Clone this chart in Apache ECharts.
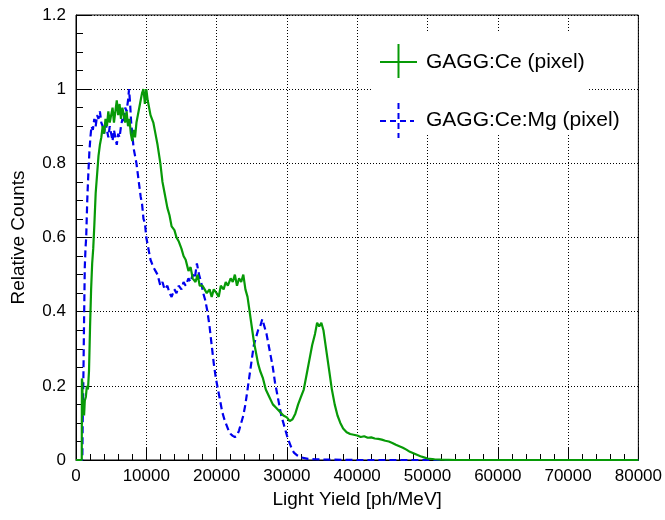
<!DOCTYPE html>
<html>
<head>
<meta charset="utf-8">
<script src="https://cdn.jsdelivr.net/npm/echarts@6/dist/echarts.min.js"></script>
<style>html,body{margin:0;padding:0;background:#fff}#c{width:665px;height:520px}</style>
</head>
<body>
<div id="c"></div>
<script>
const xTitle = 'Light Yield [ph/MeV]';
const yTitle = 'Relative Counts';
const seriesNames = ['GAGG:Ce (pixel)', 'GAGG:Ce:Mg (pixel)'];

const greenX = [0,820,840,900,960,1050,1150,1250,1400,1550,1700,1850,2000,2150,2300,2450,2600,2800,3000,3200,3400,3600,3800,4000,4200,4400,4600,4800,5000,5200,5400,5600,5800,6000,6200,6400,6600,6800,7000,7200,7400,7600,7800,8000,8200,8400,8600,8800,9000,9200,9400,9600,9800,10000,10200,10400,10600,10800,11000,11300,11600,12000,12300,12600,13000,13300,13600,14000,14300,14600,15000,15300,15600,16000,16300,16600,17000,17300,17600,18000,18300,18600,19000,19300,19600,20000,20300,20600,21000,21300,21600,22000,22300,22600,22900,23200,23500,23800,24100,24400,24700,25000,25300,25600,25900,26200,26600,27000,27500,28000,28500,29000,29500,30000,30400,30800,31200,31600,32000,32400,32800,33200,33600,34000,34300,34600,34900,35200,35500,35800,36100,36400,36800,37200,37600,38000,38500,39000,39500,40000,40500,41000,41500,42000,42500,43000,43500,44000,44500,45000,45500,46000,46500,47000,47500,48000,48500,49000,49500,50000,51000,52000,54000,80000];
const greenY = [0,0,0.22,0.21,0.12,0.15,0.12,0.16,0.17,0.20,0.19,0.24,0.36,0.46,0.53,0.57,0.63,0.72,0.77,0.82,0.85,0.87,0.90,0.88,0.92,0.90,0.94,0.91,0.93,0.95,0.91,0.94,0.97,0.93,0.96,0.92,0.95,0.93,0.91,0.94,0.90,0.92,0.88,0.86,0.89,0.87,0.91,0.93,0.95,0.97,0.99,1.0,0.96,1.0,0.97,0.95,0.93,0.93,0.91,0.88,0.85,0.80,0.75,0.72,0.68,0.66,0.63,0.62,0.60,0.59,0.57,0.55,0.54,0.51,0.52,0.49,0.48,0.50,0.47,0.47,0.46,0.45,0.46,0.44,0.46,0.45,0.44,0.47,0.46,0.48,0.47,0.49,0.48,0.50,0.47,0.49,0.48,0.50,0.46,0.44,0.40,0.36,0.32,0.29,0.26,0.24,0.22,0.19,0.17,0.15,0.14,0.13,0.12,0.115,0.105,0.11,0.125,0.15,0.17,0.19,0.23,0.27,0.31,0.34,0.37,0.36,0.37,0.35,0.31,0.27,0.23,0.19,0.15,0.12,0.10,0.085,0.075,0.07,0.068,0.066,0.062,0.064,0.06,0.061,0.058,0.057,0.055,0.052,0.05,0.046,0.041,0.037,0.033,0.028,0.022,0.018,0.014,0.01,0.007,0.004,0.002,0.001,0,0];

const blueX = [0,900,950,1050,1150,1250,1350,1450,1600,1750,1900,2050,2200,2400,2600,2800,3000,3200,3400,3600,3800,4000,4200,4400,4600,4800,5000,5200,5400,5600,5800,6000,6200,6400,6600,6800,7000,7200,7400,7550,7700,7850,8000,8200,8400,8600,8800,9000,9200,9400,9600,9800,10000,10200,10400,10600,10800,11000,11300,11600,12000,12300,12600,13000,13300,13600,14000,14300,14600,15000,15300,15600,16000,16300,16600,16900,17200,17500,17800,18100,18400,18700,19000,19300,19600,19900,20200,20500,20800,21100,21400,21700,22000,22300,22600,22900,23200,23500,23800,24100,24400,24700,25000,25300,25600,25900,26200,26500,26800,27100,27400,27700,28000,28300,28600,28900,29200,29500,29800,30100,30400,30700,31000,31500,32000,33000,34000,36000,40000,80000];
const blueY = [0,0,0.10,0.22,0.38,0.52,0.57,0.60,0.70,0.77,0.83,0.87,0.90,0.89,0.92,0.90,0.93,0.92,0.94,0.91,0.90,0.88,0.91,0.89,0.87,0.90,0.88,0.86,0.89,0.87,0.85,0.88,0.87,0.90,0.92,0.91,0.95,0.94,0.97,1.0,0.96,0.91,0.88,0.84,0.82,0.80,0.77,0.74,0.71,0.69,0.65,0.64,0.60,0.58,0.56,0.54,0.53,0.52,0.51,0.50,0.47,0.48,0.46,0.47,0.45,0.44,0.46,0.45,0.47,0.46,0.48,0.47,0.49,0.48,0.50,0.49,0.53,0.50,0.48,0.45,0.43,0.40,0.36,0.31,0.26,0.22,0.19,0.16,0.13,0.11,0.095,0.08,0.07,0.065,0.062,0.065,0.08,0.10,0.12,0.15,0.19,0.23,0.27,0.31,0.33,0.35,0.36,0.38,0.36,0.34,0.31,0.28,0.25,0.21,0.18,0.15,0.12,0.10,0.08,0.06,0.045,0.03,0.02,0.012,0.007,0.003,0.002,0.001,0,0];

const FONT = "'Liberation Sans', Arial, Helvetica, sans-serif";
const zip = (xs, ys) => xs.map((x, i) => [x, ys[i]]);

const chart = echarts.init(document.getElementById('c'), null, {renderer: 'canvas'});
chart.setOption({
  animation: false,
  backgroundColor: '#fff',
  grid: {left: 76, right: 25, top: 15, bottom: 60, show: true, borderColor: '#000', borderWidth: 1, backgroundColor: 'transparent'},
  xAxis: {
    type: 'value', min: 0, max: 80000, interval: 10000,
    name: xTitle, nameLocation: 'middle', nameGap: 24,
    nameTextStyle: {fontFamily: FONT, fontSize: 19, color: '#000'},
    axisLine: {show: true, onZero: false, lineStyle: {color: '#000', width: 1}},
    axisTick: {show: true, inside: true, length: 12, lineStyle: {color: '#000'}},
    minorTick: {show: true, splitNumber: 5, length: 6, lineStyle: {color: '#000'}},
    axisLabel: {fontFamily: FONT, fontSize: 17, color: '#000', margin: 8, formatter: v => String(v)},
    splitLine: {show: true, lineStyle: {color: '#000', type: [1, 2], width: 1}}
  },
  yAxis: {
    type: 'value', min: 0, max: 1.2, interval: 0.2,
    name: yTitle, nameLocation: 'middle', nameGap: 48,
    nameTextStyle: {fontFamily: FONT, fontSize: 19, color: '#000'},
    axisLine: {show: true, onZero: false, lineStyle: {color: '#000', width: 1}},
    axisTick: {show: true, inside: true, length: 15, lineStyle: {color: '#000'}},
    minorTick: {show: true, splitNumber: 4, length: 7, lineStyle: {color: '#000'}},
    axisLabel: {fontFamily: FONT, fontSize: 17, color: '#000', margin: 10, formatter: v => String(+v.toFixed(1))},
    splitLine: {show: true, lineStyle: {color: '#000', type: [1, 2], width: 1}}
  },
  series: [
    {name: seriesNames[1], type: 'line', data: zip(blueX, blueY), showSymbol: false, symbol: 'none',
     lineStyle: {color: '#0000ee', width: 2.2, type: [7, 4]}, z: 3},
    {name: seriesNames[0], type: 'line', data: zip(greenX, greenY), showSymbol: false, symbol: 'none',
     lineStyle: {color: '#079a07', width: 2.2}, z: 4}
  ],
  graphic: [
    {type: 'rect', z: 10, shape: {x: 372, y: 32, width: 215, height: 101}, style: {fill: '#fff'}},
    {type: 'line', z: 11, shape: {x1: 380, y1: 62, x2: 417, y2: 62}, style: {stroke: '#079a07', lineWidth: 2}},
    {type: 'line', z: 11, shape: {x1: 398.5, y1: 44, x2: 398.5, y2: 78}, style: {stroke: '#079a07', lineWidth: 2}},
    {type: 'text', z: 11, x: 426, y: 62, style: {text: seriesNames[0], font: "21px 'Liberation Sans', Arial, sans-serif", fill: '#000', verticalAlign: 'middle'}},
    {type: 'line', z: 11, shape: {x1: 380, y1: 121, x2: 414, y2: 121}, style: {stroke: '#0000ee', lineWidth: 2, lineDash: [6, 4]}},
    {type: 'line', z: 11, shape: {x1: 398.5, y1: 103, x2: 398.5, y2: 138}, style: {stroke: '#0000ee', lineWidth: 2, lineDash: [6, 4]}},
    {type: 'text', z: 11, x: 426, y: 120, style: {text: seriesNames[1], font: "21px 'Liberation Sans', Arial, sans-serif", fill: '#000', verticalAlign: 'middle'}}
  ]
});
</script>
</body>
</html>
